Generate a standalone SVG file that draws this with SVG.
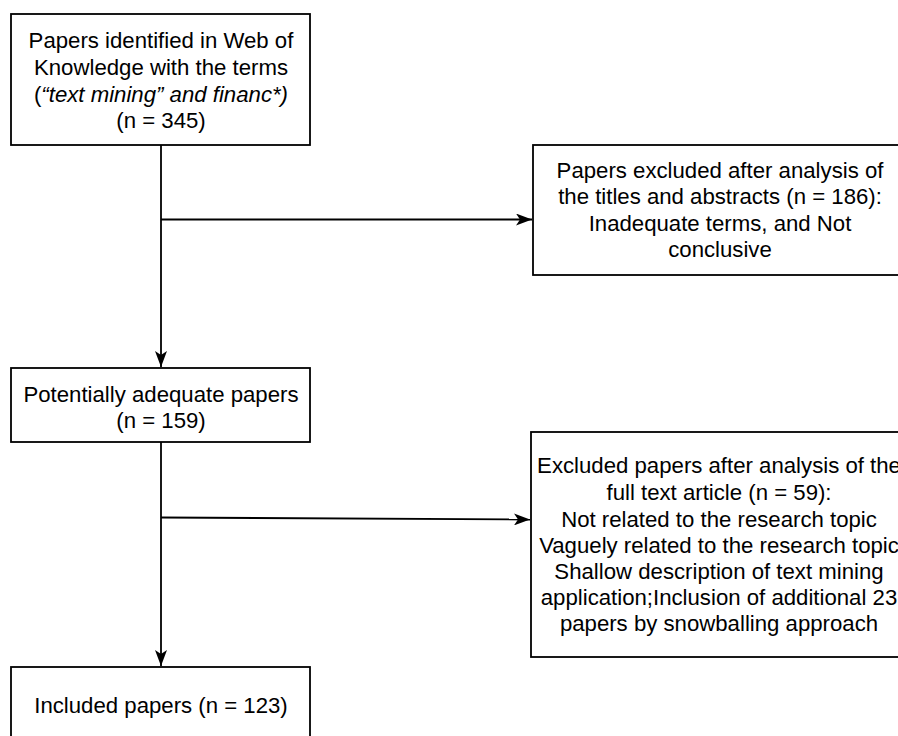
<svg xmlns="http://www.w3.org/2000/svg" width="898" height="736" viewBox="0 0 898 736">
<style>
.box{fill:#fff;stroke:#000;stroke-width:1.8}
.t{font-family:"Liberation Sans",Arial,sans-serif;font-size:22.2px;fill:#000;text-anchor:middle}
.c{fill:none;stroke:#000;stroke-width:1.8}
</style>
<defs>
<marker id="ah" viewBox="0 0 16 12" refX="16" refY="6" markerWidth="16" markerHeight="12" markerUnits="userSpaceOnUse" orient="auto">
<path d="M0,0 L16,6 L0,12 L4,6 Z" fill="#000"/>
</marker>
</defs>
<rect width="898" height="736" fill="#fff"/>
<g id="connectors">
<path class="c" d="M161,145 V367" marker-end="url(#ah)"/>
<path class="c" d="M161,219.5 H532" marker-end="url(#ah)"/>
<path class="c" d="M161,442 V666" marker-end="url(#ah)"/>
<path class="c" d="M161,517.5 L530,519.5" marker-end="url(#ah)"/>
</g>
<g id="n1">
<rect class="box" x="11" y="14" width="299" height="131"/>
<text class="t" x="161" y="48">Papers identified in Web of</text>
<text class="t" x="161" y="75">Knowledge with the terms</text>
<text class="t" x="161" y="102">(<tspan font-style="italic">“text mining” and financ*)</tspan></text>
<text class="t" x="161" y="128">(n = 345)</text>
</g>
<g id="n2">
<rect class="box" x="533" y="145" width="380" height="130"/>
<text class="t" x="720" y="178">Papers excluded after analysis of</text>
<text class="t" x="720" y="204">the titles and abstracts (n = 186):</text>
<text class="t" x="720" y="231">Inadequate terms, and Not</text>
<text class="t" x="720" y="257">conclusive</text>
</g>
<g id="n3">
<rect class="box" x="11" y="368" width="299" height="74"/>
<text class="t" x="161" y="402">Potentially adequate papers</text>
<text class="t" x="161" y="428">(n = 159)</text>
</g>
<g id="n4">
<rect class="box" x="531" y="432" width="380" height="225"/>
<text class="t" x="719" y="473">Excluded papers after analysis of the</text>
<text class="t" x="719" y="500">full text article (n = 59):</text>
<text class="t" x="719" y="527">Not related to the research topic</text>
<text class="t" x="719" y="553">Vaguely related to the research topic</text>
<text class="t" x="719" y="579">Shallow description of text mining</text>
<text class="t" x="719" y="605">application;Inclusion of additional 23</text>
<text class="t" x="719" y="631">papers by snowballing approach</text>
</g>
<g id="n5">
<rect class="box" x="11" y="667" width="299" height="90"/>
<text class="t" x="161" y="713">Included papers (n = 123)</text>
</g>
</svg>
